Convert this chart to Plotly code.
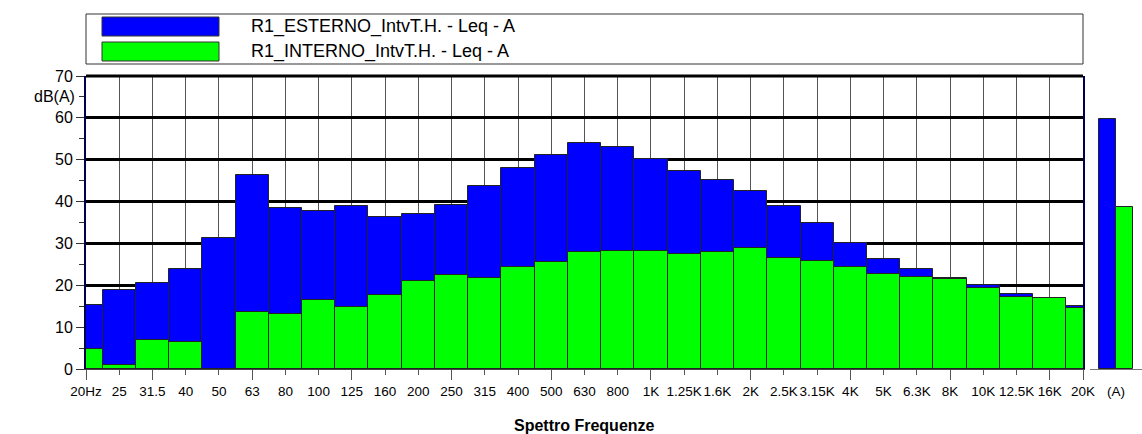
import plotly.graph_objects as go

# ---------------- data ----------------
freqs = ["20Hz", "25", "31.5", "40", "50", "63", "80", "100", "125", "160", "200",
         "250", "315", "400", "500", "630", "800", "1K", "1.25K", "1.6K", "2K",
         "2.5K", "3.15K", "4K", "5K", "6.3K", "8K", "10K", "12.5K", "16K", "20K"]
esterno = [15.4, 18.8, 20.6, 23.8, 31.4, 46.3, 38.5, 37.7, 39.0, 36.3, 37.0,
           39.2, 43.7, 48.1, 51.1, 54.0, 53.1, 50.2, 47.4, 45.1, 42.5,
           39.0, 34.9, 30.1, 26.2, 24.0, 21.7, 20.0, 17.9, 17.0, 15.1]
interno = [4.8, 1.0, 7.0, 6.4, None, 13.5, 13.2, 16.4, 14.8, 17.6, 21.1,
           22.4, 21.8, 24.4, 25.6, 28.0, 28.2, 28.2, 27.5, 27.9, 28.8,
           26.6, 25.9, 24.4, 22.6, 21.9, 21.4, 19.4, 17.3, 16.9, 14.6]
total_label = ["(A)"]
total_esterno = [59.8]
total_interno = [38.6]
names = ["R1_ESTERNO_IntvT.H. - Leq - A", "R1_INTERNO_IntvT.H. - Leq - A"]
octave_marks = ["20Hz", "31.5", "63", "125", "250", "500", "1K", "2K", "4K", "8K", "16K", "20K"]
y_ticks = [0, 10, 20, 30, 40, 50, 60, 70]
y_minor = [5, 15, 25, 35, 45, 55, 65]

BLUE = "#0000FF"
GREEN = "#00FF00"
FONT = "Arial, Liberation Sans, sans-serif"
W, H = 1142, 434

def px_x(p):
    return p / W

def px_y(p):
    return 1 - p / H

fig = go.Figure()

# main spectrum (overlaid, green in front)
fig.add_trace(go.Bar(x=freqs, y=esterno, name=names[0], marker_color=BLUE,
                     marker_line=dict(color="#222222", width=1), width=1.0,
                     xaxis="x", yaxis="y", showlegend=False))
fig.add_trace(go.Bar(x=freqs, y=interno, name=names[1], marker_color=GREEN,
                     marker_line=dict(color="#222222", width=1), width=1.0,
                     xaxis="x", yaxis="y", showlegend=False))

# total (A) panel
fig.add_trace(go.Bar(x=total_label, y=total_esterno, marker_color=BLUE,
                     marker_line=dict(color="#222222", width=1), width=0.49, offset=-0.49,
                     xaxis="x2", yaxis="y2", showlegend=False))
fig.add_trace(go.Bar(x=total_label, y=total_interno, marker_color=GREEN,
                     marker_line=dict(color="#222222", width=1), width=0.5, offset=0.0,
                     xaxis="x2", yaxis="y2", showlegend=False))

# invisible helper trace for the octave tick axis
oct_idx = [freqs.index(f) for f in octave_marks]
fig.add_trace(go.Scatter(x=oct_idx, y=[0] * len(oct_idx), mode="markers",
                         marker=dict(opacity=0), xaxis="x3", yaxis="y",
                         showlegend=False, hoverinfo="skip"))

x_dom = [px_x(86), px_x(1083)]
y_dom = [1 - 369 / H, 1 - 76 / H]

fig.update_layout(
    width=W, height=H,
    margin=dict(l=0, r=0, t=0, b=0, autoexpand=False),
    paper_bgcolor="white", plot_bgcolor="white",
    barmode="overlay", bargap=0,
    font=dict(family=FONT, color="black"),
    xaxis=dict(domain=x_dom, type="category", categoryarray=freqs, range=[0, 30],
               showgrid=True, gridcolor="#555555", gridwidth=1,
               showline=True, linecolor="#444444", linewidth=1,
               ticks="outside", ticklen=5, tickcolor="#555555", tickangle=0,
               ticklabelstandoff=5,
               tickfont=dict(size=13.5, family=FONT), anchor="y", fixedrange=True,
               automargin=False),
    xaxis3=dict(domain=x_dom, range=[0, 30], overlaying="x", anchor="y",
                tickmode="array", tickvals=oct_idx, ticks="outside", ticklen=10,
                tickcolor="#555555", showticklabels=False, showgrid=False,
                showline=False, zeroline=False, automargin=False),
    yaxis=dict(domain=y_dom, range=[0, 70], tickmode="array", tickvals=y_ticks,
               showgrid=True, gridcolor="black", gridwidth=2.5, zeroline=False,
               showline=True, linecolor="#000050", linewidth=2, mirror=True,
               ticks="outside", ticklen=8, tickcolor="#333333",
               minor=dict(tickmode="array", tickvals=y_minor, ticks="outside",
                          ticklen=5, tickcolor="#333333", showgrid=False),
               tickfont=dict(size=16, family=FONT), anchor="x", automargin=False),
    xaxis2=dict(domain=[px_x(1090), 1.0], type="category", range=[-0.75, 0.75],
                showgrid=False, showline=True, linecolor="#777777", linewidth=1,
                ticks="", tickangle=0, ticklabelstandoff=10,
                tickfont=dict(size=13.5, family=FONT), anchor="y2",
                zeroline=False, automargin=False),
    yaxis2=dict(domain=y_dom, range=[0, 70], visible=False, anchor="x2", automargin=False),
)

# top border of the plot (thick black line at the top of the plotting area)
fig.add_shape(type="line", xref="paper", yref="paper", x0=x_dom[0], x1=x_dom[1],
              y0=y_dom[1], y1=y_dom[1], line=dict(color="black", width=3))

# y axis unit label
fig.add_annotation(xref="x domain", yref="y", x=0, y=65, xanchor="right", xshift=-9,
                   text="dB(A)", showarrow=False, font=dict(size=16, family=FONT))

# x axis title
fig.add_annotation(xref="paper", yref="paper", x=(x_dom[0] + x_dom[1]) / 2, y=px_y(425),
                   xanchor="center", yanchor="middle", text="<b>Spettro Frequenze</b>",
                   showarrow=False, font=dict(size=16, family=FONT))

# custom legend box
fig.add_shape(type="rect", xref="paper", yref="paper", x0=px_x(86), x1=px_x(1083),
              y0=px_y(64), y1=px_y(14), line=dict(color="#333333", width=1),
              fillcolor="white")
for i, (nm, col) in enumerate(zip(names, [BLUE, GREEN])):
    top = 17 + i * 25
    fig.add_shape(type="rect", xref="paper", yref="paper", x0=px_x(102), x1=px_x(219),
                  y0=px_y(top + 19), y1=px_y(top), line=dict(color="#333333", width=1),
                  fillcolor=col)
    fig.add_annotation(xref="paper", yref="paper", x=px_x(249), y=px_y(top + 9.5),
                       xanchor="left", yanchor="middle", text=nm, showarrow=False,
                       font=dict(size=18, family=FONT))

fig.write_html("out.html", config={"displayModeBar": False},
               post_script="document.body.style.margin='0';document.body.style.overflow='hidden';")
